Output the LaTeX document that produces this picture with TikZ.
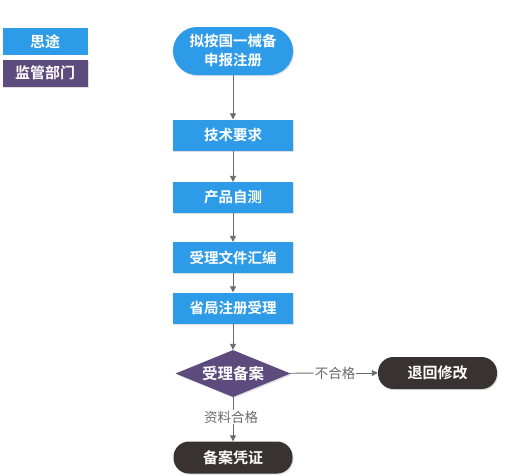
\documentclass[tikz,border=0pt]{standalone}
\usepackage{fontspec}
\newfontfamily\cjk{Noto Sans CJK SC}
\newfontfamily\cjkb{Noto Sans CJK SC Bold}
\usetikzlibrary{shapes.geometric,arrows.meta,shadows}
\definecolor{tblue}{HTML}{2E9BE8}
\definecolor{tpurple}{HTML}{5C4B7C}
\definecolor{tdark}{HTML}{383232}
\definecolor{tline}{HTML}{6A6A6A}
\tikzset{
  shd/.style={drop shadow={opacity=0.25,shadow xshift=1pt,shadow yshift=-1.2pt}},
  bluebox/.style={rectangle,fill=tblue,text=white,minimum width=120pt,minimum height=31pt,inner sep=0pt,font=\cjkb\fontsize{14.5}{16}\selectfont,shd},
  pillbox/.style={rectangle,rounded corners=15.5pt,fill=tdark,text=white,minimum width=119pt,minimum height=32pt,inner sep=0pt,font=\cjkb\fontsize{15}{16}\selectfont,shd},
  toppill/.style={rectangle,rounded corners=24pt,fill=tblue,text=white,minimum width=120pt,minimum height=48pt,inner sep=0pt,align=center,font=\cjkb\fontsize{14.5}{19}\selectfont,shd},
  decis/.style={diamond,aspect=2.45,fill=tpurple,text=white,minimum width=115pt,minimum height=47pt,inner sep=0pt,font=\cjkb\fontsize{15.5}{17}\selectfont,shd},
  legbox/.style={rectangle,text=white,minimum width=85pt,minimum height=27pt,inner sep=0pt,font=\cjkb\fontsize{15}{17}\selectfont},
  lbl/.style={text=tline,inner sep=1pt,font=\cjk\fontsize{13.5}{15}\selectfont},
  conn/.style={draw=tline,line width=0.9pt},
  arr/.style={conn,-{Triangle[width=6pt,length=6pt]}}
}
\begin{document}
\begin{tikzpicture}[x=1pt,y=1pt]
\useasboundingbox[fill=white] (0,0) rectangle (529,-475);
\node[legbox,fill=tblue] (lg1) at (45,-41.5) {思途};
\node[legbox,fill=tpurple,shd] (lg2) at (45,-73) {监管部门};
\node[toppill] (n1) at (233,-51) {拟按国一械备\\申报注册};
\node[bluebox] (n2) at (233,-135) {技术要求};
\node[bluebox] (n3) at (233,-197.5) {产品自测};
\node[bluebox] (n4) at (233,-257.5) {受理文件汇编};
\node[bluebox] (n5) at (233,-308) {省局注册受理};
\node[decis] (d) at (233,-373.5) {受理备案};
\node[pillbox] (back) at (437.5,-373) {退回修改};
\node[pillbox] (ok) at (233,-457.5) {备案凭证};
\node[lbl] (l1) at (335,-373) {不合格};
\node[lbl] (l2) at (231,-417) {资料合格};
\draw[arr] (n1) -- (n2);
\draw[arr] (n2) -- (n3);
\draw[arr] (n3) -- (n4);
\draw[arr] (n4) -- (n5);
\draw[arr] (n5) -- (d);
\draw[conn] (d) -- (l1);
\draw[arr] (l1) -- (back);
\draw[conn] (d.south) -- (d.south |- l2.north);
\draw[arr] (d.south |- l2.south) -- (ok);
\end{tikzpicture}
\end{document}
